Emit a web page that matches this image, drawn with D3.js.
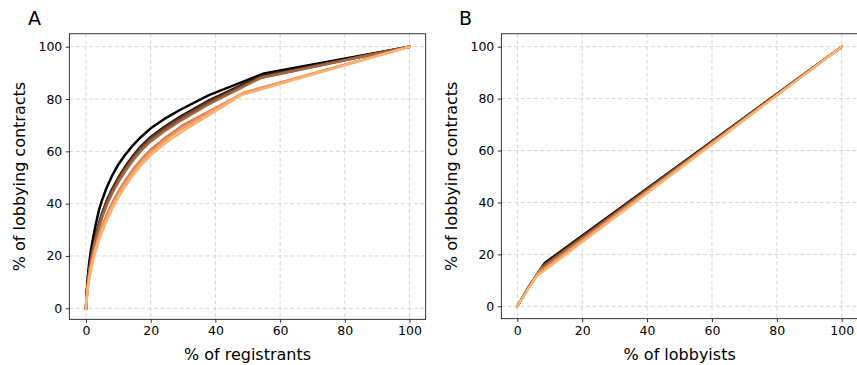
<!DOCTYPE html>
<html>
<head>
<meta charset="utf-8">
<script src="https://cdnjs.cloudflare.com/ajax/libs/d3/7.8.5/d3.min.js"></script>
<style>
  html, body { margin: 0; padding: 0; background: #fff; }
  svg { display: block; font-family: "DejaVu Sans", sans-serif; }
</style>
</head>
<body>
<svg id="chart" width="857" height="365"></svg>
<script>
// ---------- data ----------
const xTicks = [0, 20, 40, 60, 80, 100];
const yTicks = [0, 20, 40, 60, 80, 100];

// Panel A: % of registrants vs % of lobbying contracts (one row per series, dark -> light)
const panelA_x = [
  [0, 0.15, 0.4, 0.7, 1, 1.5, 2, 3, 4, 5, 6.5, 8, 10, 12, 14.5, 17, 20, 24, 29, 38, 55, 100],
  [0, 0.15, 0.4, 0.7, 1, 1.5, 2, 3, 4, 5, 6.5, 8, 10, 12, 14.5, 17, 20, 24, 29, 38, 54, 100],
  [0, 0.15, 0.4, 0.7, 1, 1.5, 2, 3, 4, 5, 6.5, 8, 10, 12, 14.5, 17, 20, 24, 29, 38, 54, 100],
  [0, 0.15, 0.4, 0.7, 1, 1.5, 2, 3, 4, 5, 6.5, 8, 10, 12, 14.5, 17, 20, 24, 29, 38, 54, 100],
  [0, 0.15, 0.4, 0.7, 1, 1.5, 2, 3, 4, 5, 6.5, 8, 10, 12, 14.5, 17, 20, 24, 29, 38, 54, 100],
  [0, 0.15, 0.4, 0.7, 1, 1.5, 2, 3, 4, 5, 6.5, 8, 10, 12, 14.5, 17, 20, 25, 30, 49, 100],
  [0, 0.15, 0.4, 0.7, 1, 1.5, 2, 3, 4, 5, 6.5, 8, 10, 12, 14.5, 17, 20, 25, 30, 48, 100],
  [0, 0.15, 0.4, 0.7, 1, 1.5, 2, 3, 4, 5, 6.5, 8, 10, 12, 14.5, 17, 20, 25, 31, 48, 100]
];
const panelA_y = [
  [0, 4.5, 9.5, 14, 17.5, 22, 25.5, 32, 37.5, 41.5, 46.5, 50.5, 55, 58.5, 62.3, 65.5, 68.8, 72.2, 75.8, 81.5, 89.8, 100],
  [0, 3.8, 8.2, 12, 15, 19, 22.5, 28, 32.5, 36.5, 41.5, 45.5, 50, 54, 58.3, 62, 65.5, 69.2, 73.2, 79.5, 88.8, 100],
  [0, 3.6, 7.9, 11.6, 14.5, 18.5, 22, 27.5, 32, 36, 41, 45, 49.5, 53.5, 57.8, 61.5, 65, 68.7, 72.7, 79, 88.5, 100],
  [0, 3.5, 7.7, 11.3, 14.2, 18.1, 21.5, 27, 31.5, 35.5, 40.5, 44.5, 49, 53, 57.3, 61, 64.5, 68.2, 72.2, 78.5, 88.2, 100],
  [0, 3.3, 7.3, 10.8, 13.7, 17.5, 20.8, 26.2, 30.7, 34.7, 39.7, 43.7, 48.2, 52.2, 56.5, 60.2, 63.8, 67.5, 71.5, 78, 88, 100],
  [0, 3, 6.6, 9.8, 12.4, 16, 19, 24, 28, 31.5, 36, 40, 44.6, 48.6, 53, 56.8, 60.6, 65.7, 70, 82.5, 100],
  [0, 2.8, 6.3, 9.4, 12, 15.4, 18.3, 23.2, 27.2, 30.6, 35, 39, 43.6, 47.6, 52, 55.8, 59.6, 64.7, 69, 82, 100],
  [0, 2.6, 5.9, 8.8, 11.2, 14.5, 17.2, 21.8, 25.8, 29.3, 33.8, 37.8, 42.4, 46.4, 50.8, 54.6, 58.5, 63.6, 68.6, 81.5, 100]
];

// Panel B: % of lobbyists vs % of lobbying contracts
const panelB_x = [
  [0, 3, 8.5, 100],
  [0, 3, 8.3, 100],
  [0, 3, 8.0, 100],
  [0, 3, 7.7, 100],
  [0, 3, 7.3, 100],
  [0, 3, 6.8, 100],
  [0, 3, 6.3, 100],
  [0, 3, 5.8, 100]
];
const panelB_y = [
  [0, 6.5, 16.8, 100],
  [0, 6.4, 16.3, 100],
  [0, 6.3, 15.8, 100],
  [0, 6.3, 15.2, 100],
  [0, 6.2, 14.4, 100],
  [0, 6.1, 13.4, 100],
  [0, 6.0, 12.3, 100],
  [0, 6.0, 11.3, 100]
];

// ---------- drawing ----------
const svg = d3.select("#chart");

function copper(t) {
  const r = Math.min(1, 1.25 * t), g = 0.7812 * t, b = 0.4975 * t;
  return d3.rgb(r * 255, g * 255, b * 255).toString();
}

function panel(cfg) {
  const x = d3.scaleLinear().domain([0, 100]).range([cfg.x0, cfg.x100]);
  const y = d3.scaleLinear().domain([0, 100]).range([cfg.y0, cfg.y100]);
  const g = svg.append("g");

  // grid
  g.append("g").selectAll("line").data(xTicks).join("line")
    .attr("x1", d => x(d)).attr("x2", d => x(d))
    .attr("y1", cfg.top).attr("y2", cfg.bottom)
    .attr("stroke", "#cccccc").attr("stroke-width", 0.8)
    .attr("stroke-dasharray", "4,2.5");
  g.append("g").selectAll("line").data(yTicks).join("line")
    .attr("x1", cfg.left).attr("x2", cfg.right)
    .attr("y1", d => y(d)).attr("y2", d => y(d))
    .attr("stroke", "#cccccc").attr("stroke-width", 0.8)
    .attr("stroke-dasharray", "4,2.5");

  // lines
  const n = cfg.xs.length;
  const line = d3.line().x(d => x(d[0])).y(d => y(d[1]));
  cfg.xs.forEach((xs, i) => {
    const pts = xs.map((v, j) => [v, cfg.ys[i][j]]);
    g.append("path").datum(pts)
      .attr("d", line)
      .attr("fill", "none")
      .attr("stroke", copper(0.9 * i / (n - 1)))
      .attr("stroke-width", cfg.lw)
      .attr("stroke-linejoin", "round")
      .attr("stroke-linecap", "square");
  });

  // spines
  g.append("rect")
    .attr("x", cfg.left).attr("y", cfg.top)
    .attr("width", cfg.right - cfg.left).attr("height", cfg.bottom - cfg.top)
    .attr("fill", "none").attr("stroke", "#000").attr("stroke-width", 0.8);

  // axes
  const xAxis = d3.axisBottom(x).tickValues(xTicks).tickSize(3.5).tickPadding(3.5);
  const gx = g.append("g").attr("transform", `translate(0,${cfg.bottom})`).call(xAxis);
  const yAxis = d3.axisLeft(y).tickValues(yTicks).tickSize(3.5).tickPadding(3.5);
  const gy = g.append("g").attr("transform", `translate(${cfg.left},0)`).call(yAxis);
  [gx, gy].forEach(a => {
    a.select(".domain").remove();
    a.selectAll(".tick line").attr("stroke", "#000").attr("stroke-width", 0.8);
    a.selectAll(".tick text").attr("fill", "#000")
      .style("font-family", "DejaVu Sans").style("font-size", "12.5px");
  });

  // labels
  g.append("text")
    .attr("x", (cfg.left + cfg.right) / 2).attr("y", cfg.xlabelY)
    .attr("text-anchor", "middle")
    .style("font-size", "16px").attr("fill", "#000")
    .text(cfg.xlabel);
  g.append("text")
    .attr("transform", `translate(${cfg.ylabelX},${(cfg.top + cfg.bottom) / 2}) rotate(-90)`)
    .attr("text-anchor", "middle")
    .style("font-size", "16px").attr("fill", "#000")
    .text(cfg.ylabel);
  g.append("text")
    .attr("x", cfg.letterX).attr("y", 25)
    .style("font-size", "19px").attr("fill", "#000")
    .text(cfg.letter);
}

panel({
  xs: panelA_x, ys: panelA_y, lw: 2.5,
  left: 69.3, right: 425.7, top: 33.8, bottom: 319.3,
  x0: 86, x100: 409.5, y0: 308.3, y100: 46.7,
  xlabel: "% of registrants", ylabel: "% of lobbying contracts",
  xlabelY: 360, ylabelX: 25, letter: "A", letterX: 28
});
panel({
  xs: panelB_x, ys: panelB_y, lw: 2.2,
  left: 501.3, right: 858, top: 33.8, bottom: 318.7,
  x0: 517.3, x100: 841.7, y0: 306.3, y100: 46.7,
  xlabel: "% of lobbyists", ylabel: "% of lobbying contracts",
  xlabelY: 360, ylabelX: 457, letter: "B", letterX: 459
});
</script>
</body>
</html>
